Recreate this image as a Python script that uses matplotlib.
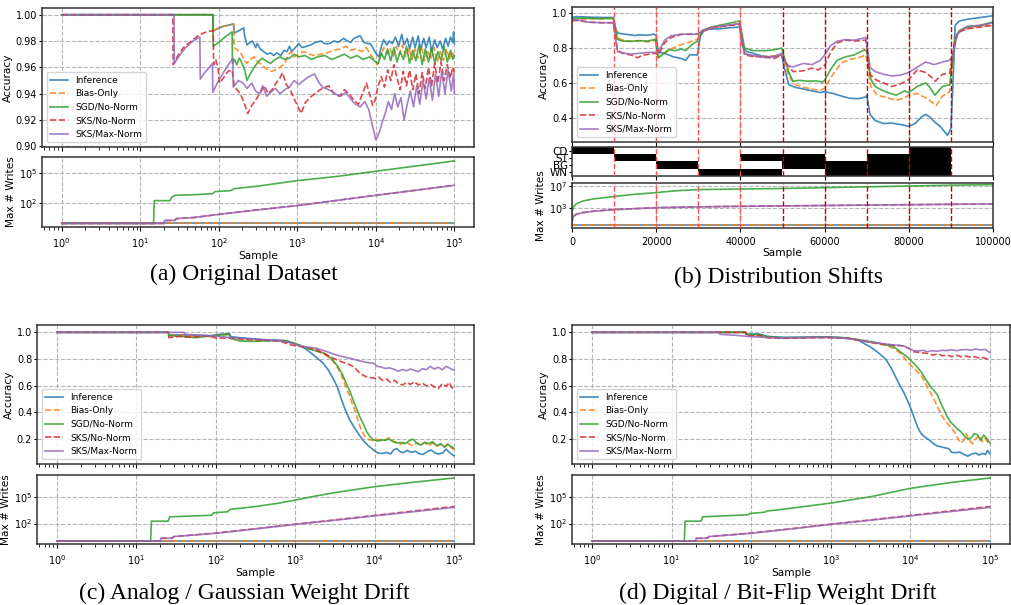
import numpy as np
import matplotlib.pyplot as plt
from matplotlib.ticker import NullLocator

names = ["Inference", "Bias-Only", "SGD/No-Norm", "SKS/No-Norm", "SKS/Max-Norm"]
colors = ["#1f77b4", "#ff7f0e", "#2ca02c", "#d62728", "#9467bd"]
styles = ["-", "--", "-", "--", "-"]

# ---------------- (a) original dataset: (log10 sample, accuracy) ----------------
a_inf = [(0, 1.0), (1.925, 1.0), (1.93, 0.988), (2.05, 0.991), (2.19, 0.993), (2.195, 0.986), (2.26, 0.988),
         (2.32, 0.990), (2.33, 0.984), (2.36, 0.977), (2.40, 0.979), (2.43, 0.980), (2.47, 0.975), (2.49, 0.978),
         (2.53, 0.974), (2.57, 0.972), (2.62, 0.970), (2.66, 0.971), (2.70, 0.969), (2.74, 0.971), (2.79, 0.969),
         (2.83, 0.973), (2.87, 0.972), (2.90, 0.976), (2.93, 0.972), (2.96, 0.974), (3.02, 0.978), (3.06, 0.975),
         (3.12, 0.976), (3.17, 0.977), (3.23, 0.979), (3.30, 0.980), (3.35, 0.978), (3.40, 0.978), (3.47, 0.980),
         (3.52, 0.979), (3.59, 0.982), (3.64, 0.980), (3.68, 0.979), (3.72, 0.982), (3.76, 0.983), (3.80, 0.984),
         (3.83, 0.981), (3.85, 0.979), (3.90, 0.978), (3.93, 0.978), (3.97, 0.974), (4.01, 0.970), (4.04, 0.968),
         (4.07, 0.976), (4.10, 0.981), (4.14, 0.977), (4.17, 0.980), (4.21, 0.978), (4.25, 0.983), (4.29, 0.976),
         (4.33, 0.985), (4.36, 0.977), (4.40, 0.982), (4.43, 0.974), (4.47, 0.983), (4.50, 0.975), (4.54, 0.984),
         (4.57, 0.973), (4.61, 0.982), (4.64, 0.975), (4.68, 0.983), (4.71, 0.972), (4.75, 0.981), (4.78, 0.975),
         (4.82, 0.980), (4.85, 0.974), (4.89, 0.982), (4.92, 0.976), (4.95, 0.983), (4.98, 0.979), (4.99, 0.987),
         (5.0, 0.978)]
a_bias = [(0, 1.0), (1.925, 1.0), (1.93, 0.988), (2.05, 0.991), (2.19, 0.993), (2.195, 0.975), (2.24, 0.973),
          (2.27, 0.972), (2.29, 0.970), (2.33, 0.965), (2.36, 0.963), (2.40, 0.966), (2.45, 0.968), (2.50, 0.964),
          (2.55, 0.962), (2.60, 0.959), (2.66, 0.957), (2.72, 0.958), (2.78, 0.960), (2.84, 0.963), (2.88, 0.969),
          (2.92, 0.972), (2.96, 0.968), (3.02, 0.970), (3.08, 0.972), (3.15, 0.970), (3.22, 0.969), (3.30, 0.970),
          (3.38, 0.971), (3.46, 0.973), (3.55, 0.974), (3.62, 0.976), (3.68, 0.973), (3.75, 0.974), (3.82, 0.972),
          (3.88, 0.975), (3.93, 0.970), (3.98, 0.966), (4.02, 0.962), (4.06, 0.968), (4.10, 0.975), (4.14, 0.970),
          (4.18, 0.974), (4.22, 0.968), (4.26, 0.976), (4.30, 0.970), (4.34, 0.977), (4.38, 0.968), (4.42, 0.975),
          (4.46, 0.966), (4.50, 0.974), (4.54, 0.967), (4.58, 0.976), (4.62, 0.965), (4.66, 0.973), (4.70, 0.966),
          (4.74, 0.975), (4.78, 0.964), (4.82, 0.972), (4.86, 0.965), (4.90, 0.974), (4.94, 0.966), (4.97, 0.972),
          (5.0, 0.968)]
a_sgd = [(0, 1.0), (1.925, 1.0), (1.93, 0.976), (2.00, 0.979), (2.08, 0.983), (2.17, 0.987), (2.175, 0.963),
         (2.20, 0.966), (2.23, 0.962), (2.26, 0.967), (2.29, 0.964), (2.33, 0.958), (2.36, 0.950), (2.40, 0.955),
         (2.45, 0.960), (2.50, 0.964), (2.55, 0.967), (2.60, 0.965), (2.66, 0.963), (2.72, 0.966), (2.78, 0.968),
         (2.84, 0.966), (2.90, 0.967), (2.96, 0.970), (3.02, 0.968), (3.10, 0.969), (3.18, 0.966), (3.26, 0.968),
         (3.35, 0.969), (3.44, 0.966), (3.52, 0.968), (3.60, 0.970), (3.68, 0.967), (3.76, 0.969), (3.84, 0.966),
         (3.92, 0.968), (3.98, 0.965), (4.03, 0.963), (4.07, 0.971), (4.11, 0.966), (4.15, 0.974), (4.19, 0.965),
         (4.23, 0.975), (4.27, 0.964), (4.31, 0.972), (4.35, 0.966), (4.39, 0.976), (4.43, 0.963), (4.47, 0.973),
         (4.51, 0.965), (4.55, 0.977), (4.59, 0.962), (4.63, 0.974), (4.67, 0.964), (4.71, 0.975), (4.75, 0.963),
         (4.79, 0.972), (4.83, 0.965), (4.87, 0.976), (4.91, 0.964), (4.95, 0.973), (4.98, 0.966), (5.0, 0.969)]
a_sks_no = [(0, 1.0), (1.416, 1.0), (1.42, 0.962), (1.48, 0.969), (1.55, 0.975), (1.65, 0.980), (1.76, 0.985),
            (1.85, 0.987), (1.93, 0.988), (1.935, 0.962), (1.96, 0.966), (1.99, 0.960), (2.01, 0.948), (2.06, 0.952),
            (2.12, 0.957), (2.17, 0.958), (2.20, 0.945), (2.25, 0.942), (2.29, 0.938), (2.33, 0.932), (2.37, 0.925),
            (2.42, 0.931), (2.48, 0.936), (2.54, 0.942), (2.58, 0.946), (2.63, 0.940), (2.68, 0.943), (2.73, 0.948),
            (2.78, 0.952), (2.81, 0.956), (2.86, 0.947), (2.91, 0.943), (2.96, 0.936), (3.01, 0.930), (3.05, 0.925),
            (3.10, 0.933), (3.16, 0.937), (3.24, 0.941), (3.32, 0.944), (3.40, 0.946), (3.47, 0.940), (3.54, 0.938),
            (3.60, 0.943), (3.66, 0.940), (3.72, 0.935), (3.78, 0.932), (3.83, 0.940), (3.88, 0.948), (3.92, 0.940),
            (3.96, 0.931), (3.99, 0.935), (4.03, 0.946), (4.07, 0.953), (4.11, 0.945), (4.15, 0.958), (4.19, 0.950),
            (4.23, 0.962), (4.27, 0.952), (4.31, 0.943), (4.35, 0.957), (4.39, 0.946), (4.43, 0.958), (4.47, 0.943),
            (4.51, 0.955), (4.55, 0.940), (4.59, 0.956), (4.63, 0.944), (4.67, 0.960), (4.71, 0.946), (4.75, 0.963),
            (4.79, 0.948), (4.83, 0.964), (4.87, 0.950), (4.91, 0.962), (4.95, 0.952), (4.98, 0.960), (5.0, 0.956)]
a_sks_max = [(0, 1.0), (1.43, 1.0), (1.435, 0.963), (1.50, 0.969), (1.58, 0.975), (1.67, 0.980), (1.76, 0.983),
             (1.765, 0.951), (1.82, 0.956), (1.88, 0.960), (1.92, 0.963), (1.925, 0.941), (1.98, 0.948), (2.04, 0.954),
             (2.10, 0.960), (2.18, 0.967), (2.185, 0.945), (2.25, 0.950), (2.31, 0.948), (2.36, 0.944), (2.42, 0.948),
             (2.47, 0.942), (2.52, 0.940), (2.56, 0.946), (2.61, 0.938), (2.66, 0.941), (2.72, 0.944), (2.78, 0.940),
             (2.84, 0.943), (2.90, 0.945), (2.96, 0.950), (3.02, 0.947), (3.08, 0.950), (3.15, 0.953), (3.22, 0.955),
             (3.27, 0.949), (3.32, 0.945), (3.40, 0.943), (3.48, 0.940), (3.55, 0.938), (3.62, 0.941), (3.68, 0.936),
             (3.74, 0.932), (3.80, 0.930), (3.86, 0.934), (3.91, 0.928), (3.96, 0.915), (4.00, 0.905), (4.04, 0.910),
             (4.08, 0.918), (4.12, 0.925), (4.16, 0.934), (4.20, 0.928), (4.24, 0.940), (4.28, 0.930), (4.32, 0.937),
             (4.36, 0.920), (4.40, 0.932), (4.44, 0.942), (4.48, 0.930), (4.52, 0.946), (4.56, 0.932), (4.60, 0.950),
             (4.64, 0.936), (4.68, 0.952), (4.72, 0.935), (4.76, 0.955), (4.80, 0.938), (4.84, 0.957), (4.88, 0.940),
             (4.92, 0.958), (4.96, 0.942), (4.99, 0.955), (5.0, 0.940)]
# writes: (log10 sample, log10 max writes)
w_flat = [(0, 0), (5.0, 0)]
a_w_sgd = [(0, 0), (1.17, 0), (1.18, 2.26), (1.38, 2.26), (1.40, 2.6), (1.45, 2.79), (1.7, 2.85), (1.92, 2.95),
           (1.95, 3.15), (2.15, 3.25), (2.2, 3.45), (2.5, 3.7), (3.0, 4.24), (3.5, 4.65), (4.0, 5.17), (4.5, 5.68),
           (5.0, 6.19)]
a_w_sks = [(0, 0), (1.30, 0), (1.31, 0.3), (1.44, 0.3), (1.46, 0.48), (1.7, 0.6), (2.0, 0.9), (2.5, 1.35),
           (3.0, 1.77), (3.5, 2.28), (4.0, 2.79), (4.5, 3.28), (5.0, 3.78)]

# ---------------- (b) distribution shifts: (sample, accuracy) ----------------
b_inf = [(0, 0.975), (1000, 0.980), (3000, 0.978), (5000, 0.976), (8000, 0.975), (9800, 0.975), (10500, 0.90),
         (11000, 0.885), (13000, 0.878), (15000, 0.872), (16000, 0.876), (18000, 0.873), (19500, 0.880),
         (20000, 0.870), (20500, 0.775), (22000, 0.770), (24000, 0.750), (26000, 0.740), (27000, 0.730),
         (28000, 0.762), (29800, 0.760), (30500, 0.870), (31500, 0.905), (33000, 0.908), (35000, 0.910),
         (37000, 0.915), (39800, 0.920), (40500, 0.805), (41500, 0.780), (43000, 0.770), (45000, 0.755),
         (47000, 0.750), (49800, 0.760), (50500, 0.680), (51500, 0.590), (53000, 0.575), (55000, 0.565),
         (57000, 0.555), (59000, 0.545), (60000, 0.550), (62000, 0.540), (64000, 0.525), (66000, 0.512),
         (68000, 0.510), (69800, 0.520), (70000, 0.530), (70800, 0.420), (72000, 0.385), (74000, 0.368),
         (76000, 0.370), (78000, 0.362), (80000, 0.352), (81500, 0.368), (83000, 0.405), (84000, 0.420),
         (85000, 0.405), (86000, 0.380), (87500, 0.350), (89200, 0.300), (90000, 0.340), (90500, 0.600),
         (91000, 0.930), (92000, 0.955), (94000, 0.965), (97000, 0.975), (100000, 0.985)]
b_bias = [(0, 0.955), (2000, 0.965), (5000, 0.968), (8000, 0.968), (9800, 0.970), (10800, 0.860), (12000, 0.845),
          (14000, 0.840), (16000, 0.842), (18000, 0.835), (19800, 0.845), (20500, 0.745), (22000, 0.775),
          (24000, 0.800), (26000, 0.820), (28000, 0.835), (29800, 0.850), (31000, 0.900), (33000, 0.915),
          (36000, 0.925), (39800, 0.940), (41000, 0.770), (43000, 0.755), (46000, 0.750), (49800, 0.760),
          (51500, 0.640), (53000, 0.590), (55000, 0.575), (57000, 0.565), (59000, 0.558), (60000, 0.570),
          (62000, 0.650), (64000, 0.715), (66000, 0.735), (68000, 0.745), (69800, 0.760), (71000, 0.580),
          (72500, 0.530), (75000, 0.515), (77000, 0.500), (79000, 0.515), (80000, 0.530), (82000, 0.540),
          (84000, 0.515), (85500, 0.490), (86500, 0.470), (88000, 0.525), (89700, 0.550), (91000, 0.840),
          (92000, 0.890), (94000, 0.915), (97000, 0.925), (100000, 0.935)]
b_sgd = [(0, 0.970), (3000, 0.972), (6000, 0.968), (9800, 0.970), (10800, 0.850), (12000, 0.840), (14000, 0.838),
         (16000, 0.842), (18000, 0.840), (19800, 0.850), (20500, 0.745), (22000, 0.770), (23000, 0.790),
         (24500, 0.785), (26000, 0.795), (27000, 0.785), (28500, 0.820), (29800, 0.840), (31000, 0.900),
         (33000, 0.920), (36000, 0.935), (39800, 0.955), (41000, 0.800), (43000, 0.785), (46000, 0.785),
         (48000, 0.790), (49800, 0.800), (51500, 0.660), (52500, 0.610), (54000, 0.615), (56000, 0.610),
         (58000, 0.612), (59500, 0.605), (60000, 0.615), (61500, 0.680), (63000, 0.730), (65000, 0.750),
         (67000, 0.760), (69500, 0.790), (70000, 0.780), (71000, 0.620), (72000, 0.580), (73500, 0.560),
         (75000, 0.545), (77000, 0.530), (79000, 0.555), (80000, 0.545), (82000, 0.580), (84000, 0.600),
         (85000, 0.575), (86200, 0.530), (88000, 0.580), (89700, 0.590), (91000, 0.860), (92000, 0.900),
         (94000, 0.920), (97000, 0.930), (100000, 0.950)]
b_sks_no = [(0, 0.960), (2000, 0.955), (4000, 0.948), (7000, 0.945), (9800, 0.945), (10800, 0.790), (12000, 0.770),
            (14000, 0.760), (15500, 0.745), (17000, 0.760), (19800, 0.770), (20500, 0.760), (22000, 0.830),
            (23500, 0.860), (26000, 0.878), (28000, 0.880), (29800, 0.880), (31000, 0.895), (33000, 0.915),
            (36000, 0.925), (39800, 0.935), (41000, 0.760), (43000, 0.752), (46000, 0.748), (48000, 0.740),
            (49800, 0.760), (51000, 0.710), (52500, 0.665), (55000, 0.670), (57000, 0.685), (58500, 0.675),
            (60000, 0.700), (61500, 0.780), (63000, 0.830), (65000, 0.845), (67000, 0.840), (69800, 0.845),
            (70800, 0.650), (72000, 0.620), (74000, 0.600), (76000, 0.580), (78000, 0.595), (80000, 0.620),
            (82000, 0.675), (84000, 0.660), (85500, 0.630), (86300, 0.610), (88000, 0.650), (89700, 0.655),
            (91000, 0.850), (92000, 0.895), (94000, 0.910), (97000, 0.920), (100000, 0.930)]
b_sks_max = [(0, 0.965), (2000, 0.958), (4000, 0.948), (7000, 0.945), (9800, 0.945), (10800, 0.780), (12000, 0.772),
             (14000, 0.765), (16000, 0.770), (18000, 0.775), (19800, 0.775), (20500, 0.780), (22000, 0.845),
             (23500, 0.870), (26000, 0.880), (28000, 0.878), (29800, 0.880), (31000, 0.900), (33000, 0.918),
             (36000, 0.928), (39800, 0.940), (41000, 0.765), (43000, 0.758), (46000, 0.745), (48000, 0.750),
             (49800, 0.770), (51000, 0.700), (52500, 0.692), (55000, 0.712), (57000, 0.705), (59000, 0.730),
             (60000, 0.760), (61500, 0.815), (63000, 0.840), (65000, 0.848), (67000, 0.845), (69800, 0.860),
             (70800, 0.690), (72000, 0.665), (74000, 0.650), (76000, 0.640), (78000, 0.645), (80000, 0.660),
             (82000, 0.690), (84000, 0.720), (86000, 0.705), (88000, 0.720), (89700, 0.730), (90500, 0.760),
             (91500, 0.880), (92500, 0.905), (94000, 0.925), (97000, 0.930), (100000, 0.945)]
b_w_flat = [(0, 0), (100000, 0)]
b_w_sgd = [(0, 0), (100, 2.5), (300, 3.2), (1000, 3.8), (2500, 4.3), (5000, 4.7), (8000, 4.95), (10000, 5.15),
           (15000, 5.55), (20000, 5.85), (25000, 6.2), (30000, 6.4), (40000, 6.5), (50000, 6.6), (60000, 6.75),
           (70000, 6.9), (80000, 7.05), (90000, 7.2), (100000, 7.3)]
b_w_sks = [(0, 0), (100, 1.0), (500, 1.6), (1000, 1.9), (2500, 2.2), (5000, 2.45), (10000, 2.75), (20000, 3.1),
           (30000, 3.25), (40000, 3.35), (60000, 3.5), (80000, 3.65), (100000, 3.78)]
shift_labels = ["CD", "ST", "BG", "WN"]
shift_active = [[1, 0, 0, 0, 0, 0, 0, 0, 1, 0],
                [0, 1, 0, 0, 1, 1, 0, 1, 1, 0],
                [0, 0, 1, 0, 0, 1, 1, 1, 1, 0],
                [0, 0, 0, 1, 1, 0, 1, 1, 1, 0]]
shift_bounds = [10000, 20000, 30000, 40000, 50000, 60000, 70000, 80000, 90000]

# ---------------- (c) analog / gaussian drift ----------------
c_inf = [(0, 1.0), (1.40, 1.0), (1.41, 0.982), (1.60, 0.980), (1.80, 0.978), (1.95, 0.975), (2.05, 0.985),
         (2.17, 0.990), (2.19, 0.968), (2.30, 0.960), (2.45, 0.952), (2.60, 0.945), (2.75, 0.942), (2.85, 0.940),
         (2.95, 0.925), (3.05, 0.905), (3.12, 0.880), (3.20, 0.845), (3.27, 0.810), (3.35, 0.770), (3.42, 0.715),
         (3.48, 0.650), (3.53, 0.590), (3.58, 0.500), (3.63, 0.420), (3.68, 0.350), (3.74, 0.290), (3.80, 0.235),
         (3.86, 0.185), (3.92, 0.150), (3.98, 0.120), (4.04, 0.095), (4.10, 0.092), (4.15, 0.100), (4.20, 0.088),
         (4.24, 0.120), (4.28, 0.128), (4.32, 0.105), (4.36, 0.098), (4.41, 0.115), (4.46, 0.100), (4.51, 0.108),
         (4.56, 0.090), (4.61, 0.085), (4.66, 0.105), (4.71, 0.118), (4.76, 0.095), (4.81, 0.088), (4.86, 0.098),
         (4.90, 0.125), (4.94, 0.100), (4.97, 0.085), (5.0, 0.075)]
c_bias = [(0, 1.0), (1.40, 1.0), (1.41, 0.980), (1.60, 0.975), (1.80, 0.970), (1.95, 0.968), (2.05, 0.978),
          (2.17, 0.985), (2.19, 0.960), (2.35, 0.945), (2.50, 0.940), (2.70, 0.937), (2.85, 0.935), (3.00, 0.915),
          (3.15, 0.885), (3.27, 0.860), (3.37, 0.835), (3.45, 0.800), (3.52, 0.750), (3.58, 0.680), (3.63, 0.600),
          (3.68, 0.530), (3.72, 0.460), (3.76, 0.400), (3.80, 0.320), (3.84, 0.260), (3.88, 0.215), (3.93, 0.195),
          (3.98, 0.190), (4.03, 0.200), (4.08, 0.185), (4.13, 0.195), (4.18, 0.210), (4.23, 0.185), (4.28, 0.175),
          (4.33, 0.160), (4.38, 0.180), (4.43, 0.165), (4.48, 0.150), (4.53, 0.170), (4.58, 0.155), (4.63, 0.175),
          (4.68, 0.150), (4.73, 0.170), (4.78, 0.145), (4.83, 0.160), (4.88, 0.140), (4.92, 0.165), (4.96, 0.135),
          (5.0, 0.120)]
c_sgd = [(0, 1.0), (1.40, 1.0), (1.41, 0.975), (1.60, 0.968), (1.75, 0.960), (1.90, 0.972), (2.05, 0.980),
         (2.17, 0.985), (2.19, 0.955), (2.30, 0.935), (2.45, 0.932), (2.60, 0.935), (2.75, 0.938), (2.90, 0.935),
         (3.00, 0.915), (3.15, 0.880), (3.27, 0.860), (3.38, 0.840), (3.46, 0.800), (3.53, 0.750), (3.59, 0.690),
         (3.64, 0.620), (3.69, 0.556), (3.73, 0.490), (3.77, 0.430), (3.81, 0.370), (3.86, 0.310), (3.90, 0.255),
         (3.94, 0.220), (3.98, 0.195), (4.03, 0.185), (4.08, 0.195), (4.13, 0.190), (4.18, 0.200), (4.23, 0.180),
         (4.28, 0.170), (4.33, 0.175), (4.38, 0.165), (4.43, 0.185), (4.48, 0.200), (4.53, 0.170), (4.58, 0.155),
         (4.63, 0.175), (4.68, 0.165), (4.73, 0.180), (4.78, 0.150), (4.83, 0.165), (4.88, 0.140), (4.92, 0.160),
         (4.96, 0.145), (5.0, 0.130)]
c_sks_no = [(0, 1.0), (1.40, 1.0), (1.41, 0.960), (1.55, 0.970), (1.65, 0.963), (1.80, 0.968), (1.90, 0.975),
            (2.00, 0.958), (2.20, 0.955), (2.40, 0.948), (2.60, 0.942), (2.80, 0.935), (2.95, 0.905), (3.05, 0.895),
            (3.15, 0.885), (3.27, 0.870), (3.38, 0.835), (3.48, 0.805), (3.58, 0.780), (3.66, 0.765), (3.74, 0.740),
            (3.81, 0.695), (3.88, 0.670), (3.95, 0.660), (4.00, 0.655), (4.05, 0.665), (4.10, 0.640), (4.15, 0.650),
            (4.20, 0.625), (4.25, 0.640), (4.30, 0.615), (4.35, 0.605), (4.40, 0.625), (4.45, 0.610), (4.50, 0.630),
            (4.55, 0.605), (4.60, 0.620), (4.65, 0.598), (4.70, 0.612), (4.75, 0.590), (4.80, 0.578), (4.85, 0.615),
            (4.90, 0.595), (4.94, 0.625), (4.97, 0.585), (5.0, 0.575)]
c_sks_max = [(0, 1.0), (1.60, 1.0), (1.61, 0.985), (1.80, 0.978), (2.00, 0.972), (2.20, 0.960), (2.40, 0.952),
             (2.60, 0.945), (2.80, 0.938), (2.95, 0.920), (3.05, 0.900), (3.15, 0.890), (3.27, 0.880), (3.40, 0.855),
             (3.52, 0.830), (3.62, 0.815), (3.69, 0.806), (3.78, 0.790), (3.86, 0.780), (3.92, 0.772), (3.98, 0.770),
             (4.03, 0.745), (4.08, 0.740), (4.13, 0.730), (4.19, 0.733), (4.25, 0.722), (4.30, 0.708), (4.35, 0.722),
             (4.40, 0.712), (4.45, 0.725), (4.50, 0.715), (4.55, 0.705), (4.60, 0.728), (4.65, 0.720), (4.70, 0.745),
             (4.75, 0.725), (4.80, 0.738), (4.85, 0.720), (4.90, 0.745), (4.95, 0.730), (5.0, 0.715)]
c_w_sgd = [(0, 0), (1.18, 0), (1.19, 2.27), (1.40, 2.27), (1.42, 2.77), (1.95, 2.95), (1.97, 3.23), (2.15, 3.35),
           (2.18, 3.62), (2.5, 3.95), (2.8, 4.35), (3.0, 4.69), (3.25, 5.15), (3.5, 5.55), (4.0, 6.23), (4.5, 6.75),
           (5.0, 7.23)]
c_w_sks_no = [(0, 0), (1.30, 0), (1.31, 0.31), (1.45, 0.31), (1.47, 0.5), (2.0, 0.9), (2.5, 1.4), (3.0, 1.92),
              (3.5, 2.42), (4.0, 2.93), (4.5, 3.45), (5.0, 3.96)]
c_w_sks_max = [(0, 0), (1.30, 0), (1.31, 0.31), (1.45, 0.31), (1.47, 0.5), (2.0, 0.88), (2.5, 1.38), (3.0, 1.9),
               (3.5, 2.38), (4.0, 2.88), (4.5, 3.37), (5.0, 3.85)]

# ---------------- (d) digital / bit-flip drift ----------------
d_inf = [(0, 1.0), (1.93, 1.0), (1.94, 0.985), (2.10, 0.988), (2.20, 0.970), (2.40, 0.962), (2.60, 0.963),
         (2.80, 0.965), (3.00, 0.966), (3.15, 0.960), (3.27, 0.950), (3.35, 0.940), (3.42, 0.915), (3.50, 0.890),
         (3.58, 0.855), (3.65, 0.820), (3.70, 0.790), (3.76, 0.730), (3.81, 0.670), (3.86, 0.610), (3.92, 0.545),
         (3.97, 0.480), (4.01, 0.420), (4.05, 0.355), (4.09, 0.290), (4.13, 0.245), (4.18, 0.215), (4.23, 0.195),
         (4.28, 0.170), (4.33, 0.150), (4.38, 0.142), (4.43, 0.135), (4.48, 0.128), (4.52, 0.100), (4.57, 0.098),
         (4.62, 0.102), (4.67, 0.085), (4.72, 0.072), (4.77, 0.088), (4.82, 0.095), (4.86, 0.080), (4.90, 0.092),
         (4.94, 0.085), (4.97, 0.115), (5.0, 0.090)]
d_bias = [(0, 1.0), (1.93, 1.0), (1.94, 0.978), (2.10, 0.982), (2.20, 0.962), (2.40, 0.958), (2.60, 0.960),
          (2.80, 0.962), (3.00, 0.963), (3.20, 0.958), (3.40, 0.940), (3.55, 0.920), (3.70, 0.900), (3.79, 0.880),
          (3.88, 0.840), (3.95, 0.790), (4.00, 0.756), (4.06, 0.720), (4.13, 0.680), (4.18, 0.630), (4.22, 0.580),
          (4.26, 0.540), (4.29, 0.507), (4.34, 0.440), (4.38, 0.395), (4.42, 0.350), (4.46, 0.320), (4.51, 0.285),
          (4.55, 0.257), (4.59, 0.210), (4.63, 0.170), (4.67, 0.190), (4.70, 0.240), (4.74, 0.190), (4.78, 0.165),
          (4.82, 0.200), (4.86, 0.230), (4.90, 0.180), (4.94, 0.205), (4.97, 0.175), (5.0, 0.155)]
d_sgd = [(0, 1.0), (1.93, 1.0), (1.94, 0.985), (2.10, 0.982), (2.20, 0.968), (2.40, 0.960), (2.60, 0.962),
         (2.80, 0.963), (3.00, 0.963), (3.20, 0.958), (3.40, 0.940), (3.55, 0.925), (3.70, 0.905), (3.79, 0.893),
         (3.88, 0.850), (3.95, 0.820), (4.00, 0.793), (4.07, 0.750), (4.13, 0.706), (4.19, 0.650), (4.25, 0.594),
         (4.30, 0.560), (4.34, 0.530), (4.38, 0.470), (4.42, 0.420), (4.46, 0.370), (4.50, 0.330), (4.55, 0.300),
         (4.59, 0.275), (4.63, 0.257), (4.68, 0.220), (4.72, 0.200), (4.76, 0.207), (4.80, 0.240), (4.84, 0.233),
         (4.88, 0.190), (4.92, 0.230), (4.95, 0.210), (4.98, 0.185), (5.0, 0.170)]
d_sks_no = [(0, 1.0), (1.93, 1.0), (1.94, 0.972), (2.10, 0.975), (2.20, 0.960), (2.40, 0.955), (2.60, 0.958),
            (2.80, 0.960), (3.00, 0.960), (3.20, 0.955), (3.35, 0.940), (3.50, 0.925), (3.58, 0.918), (3.70, 0.910),
            (3.79, 0.905), (3.92, 0.898), (3.98, 0.880), (4.04, 0.855), (4.10, 0.850), (4.16, 0.845), (4.21, 0.843),
            (4.28, 0.830), (4.34, 0.838), (4.40, 0.825), (4.46, 0.830), (4.52, 0.818), (4.58, 0.828), (4.63, 0.818),
            (4.70, 0.822), (4.76, 0.812), (4.80, 0.818), (4.86, 0.808), (4.92, 0.810), (4.96, 0.800), (5.0, 0.790)]
d_sks_max = [(0, 1.0), (1.60, 1.0), (1.61, 0.985), (1.80, 0.978), (1.95, 0.970), (2.10, 0.965), (2.30, 0.958),
             (2.60, 0.960), (2.80, 0.962), (3.00, 0.962), (3.20, 0.955), (3.35, 0.942), (3.50, 0.925), (3.65, 0.915),
             (3.79, 0.905), (3.92, 0.898), (3.98, 0.880), (4.04, 0.863), (4.10, 0.860), (4.16, 0.865), (4.21, 0.855),
             (4.28, 0.862), (4.34, 0.858), (4.40, 0.866), (4.46, 0.863), (4.52, 0.870), (4.58, 0.862), (4.63, 0.868),
             (4.70, 0.872), (4.76, 0.865), (4.82, 0.875), (4.88, 0.868), (4.94, 0.872), (4.97, 0.860), (5.0, 0.848)]
d_w_sgd = [(0, 0), (1.16, 0), (1.17, 2.27), (1.37, 2.27), (1.39, 2.77), (1.96, 3.0), (1.98, 3.15), (2.17, 3.3),
           (2.19, 3.42), (2.5, 3.75), (3.0, 4.35), (3.5, 5.08), (4.0, 6.04), (4.5, 6.7), (5.0, 7.23)]

TICK, LAB, LEG = 7, 7.6, 6.5
W, H = 1011, 605
fig = plt.figure(figsize=(W / 100, H / 100), dpi=100)
cap_y = {"a": 274, "b": 277, "c": 593, "d": 593}


def rect(x0, y0, x1, y1):
    return [x0 / W, 1 - y1 / H, (x1 - x0) / W, (y1 - y0) / H]


def style(ax):
    for s in ax.spines.values():
        s.set_color("#333333")
        s.set_linewidth(1.1)
    ax.tick_params(labelsize=TICK, length=3, width=0.8)
    ax.tick_params(axis="y", length=2, pad=1.5)
    ax.grid(True, ls="--", color="#b5b5b5", lw=0.8)
    ax.set_axisbelow(True)


def draw_lines(ax, series, logx, logy=False):
    for data, name, c, ls in zip(series, names, colors, styles):
        x, y = np.array(data, dtype=float).T
        if logx:
            x = 10 ** x
        if logy:
            y = 10 ** y
        ax.plot(x, y, ls, color=c, lw=1.2, alpha=0.85, label=name)


def log_panel(r_top, r_bot, acc, writes, ylim, wtop, caption, cx):
    ax = fig.add_axes(rect(*r_top))
    axw = fig.add_axes(rect(*r_bot), sharex=ax)
    draw_lines(ax, acc, True)
    draw_lines(axw, writes, True, True)
    ax.set_xscale("log")
    ax.set_xlim(10 ** -0.25, 10 ** 5.25)
    ax.set_ylim(*ylim)
    ax.tick_params(labelbottom=False)
    ax.set_ylabel("Accuracy", fontsize=LAB, labelpad=2)
    ax.legend(loc="lower left", fontsize=LEG, framealpha=0.8)
    axw.set_yscale("log")
    axw.set_ylim(10 ** -0.35, 10 ** wtop)
    axw.set_yticks([1e2, 1e5])
    axw.yaxis.set_minor_locator(NullLocator())
    axw.set_xticks([1, 10, 100, 1000, 10000, 100000])
    axw.set_xlabel("Sample", fontsize=LAB, labelpad=1)
    axw.set_ylabel("Max # Writes", fontsize=LAB, labelpad=2)
    for a in (ax, axw):
        style(a)
    fig.text(cx / W, 1 - cap_y[caption[1]] / H, caption, ha="center", va="center",
             fontsize=17, family="Liberation Serif")


log_panel((42, 8, 474, 147), (42, 157, 474, 227),
          [a_inf, a_bias, a_sgd, a_sks_no, a_sks_max],
          [w_flat, w_flat, a_w_sgd, a_w_sks, a_w_sks],
          (0.8995, 1.0051), 6.58, "(a) Original Dataset", 244)
log_panel((37, 325, 474, 464), (37, 475, 474, 544),
          [c_inf, c_bias, c_sgd, c_sks_no, c_sks_max],
          [w_flat, w_flat, c_w_sgd, c_w_sks_no, c_w_sks_max],
          (0.013, 1.055), 7.57, "(c) Analog / Gaussian Weight Drift", 244)
log_panel((572, 325, 1010, 464), (572, 475, 1010, 544),
          [d_inf, d_bias, d_sgd, d_sks_no, d_sks_max],
          [w_flat, w_flat, d_w_sgd, c_w_sks_no, c_w_sks_max],
          (0.013, 1.055), 7.57, "(d) Digital / Bit-Flip Weight Drift", 778)

# ---------------- (b) ----------------
axb = fig.add_axes(rect(572, 7, 993, 142))
axs = fig.add_axes(rect(572, 147, 993, 176), sharex=axb)
axbw = fig.add_axes(rect(572, 183, 993, 228), sharex=axb)
draw_lines(axb, [b_inf, b_bias, b_sgd, b_sks_no, b_sks_max], False)
draw_lines(axbw, [b_w_flat, b_w_flat, b_w_sgd, b_w_sks, b_w_sks], False, True)
axs.imshow(np.array(shift_active), cmap="gray_r", aspect="auto", interpolation="nearest",
           extent=[0, 100000, 3.5, -0.5], vmin=0, vmax=1)
axb.set_xlim(0, 100000)
axb.set_ylim(0.262, 1.035)
axb.set_yticks([0.4, 0.6, 0.8, 1.0])
axb.set_ylabel("Accuracy", fontsize=LAB, labelpad=2)
axb.legend(loc="lower left", fontsize=LEG, framealpha=0.8)
axb.tick_params(labelbottom=False)
axs.set_yticks(range(4))
axs.set_yticklabels(shift_labels)
axs.tick_params(labelbottom=False)
axbw.set_yscale("log")
axbw.set_ylim(10 ** -0.6, 10 ** 7.6)
axbw.set_yticks([1e3, 1e7])
axbw.yaxis.set_minor_locator(NullLocator())
axbw.set_xticks([0, 20000, 40000, 60000, 80000, 100000])
axbw.set_xlabel("Sample", fontsize=LAB, labelpad=1)
axbw.set_ylabel("Max # Writes", fontsize=LAB, labelpad=2)
for a in (axb, axs, axbw):
    style(a)
axs.grid(False)
axs.tick_params(axis="y", labelsize=7.5, pad=1, length=2)
for a in (axb, axs, axbw):
    for xv in shift_bounds:
        a.axvline(xv, ls="--", lw=1.0, color="#ff5050" if xv < 45000 else "#cc0000", zorder=3)
fig.text(779 / W, 1 - cap_y["b"] / H, "(b) Distribution Shifts", ha="center", va="center",
         fontsize=17, family="Liberation Serif")

fig.savefig("out.png", dpi=100)
